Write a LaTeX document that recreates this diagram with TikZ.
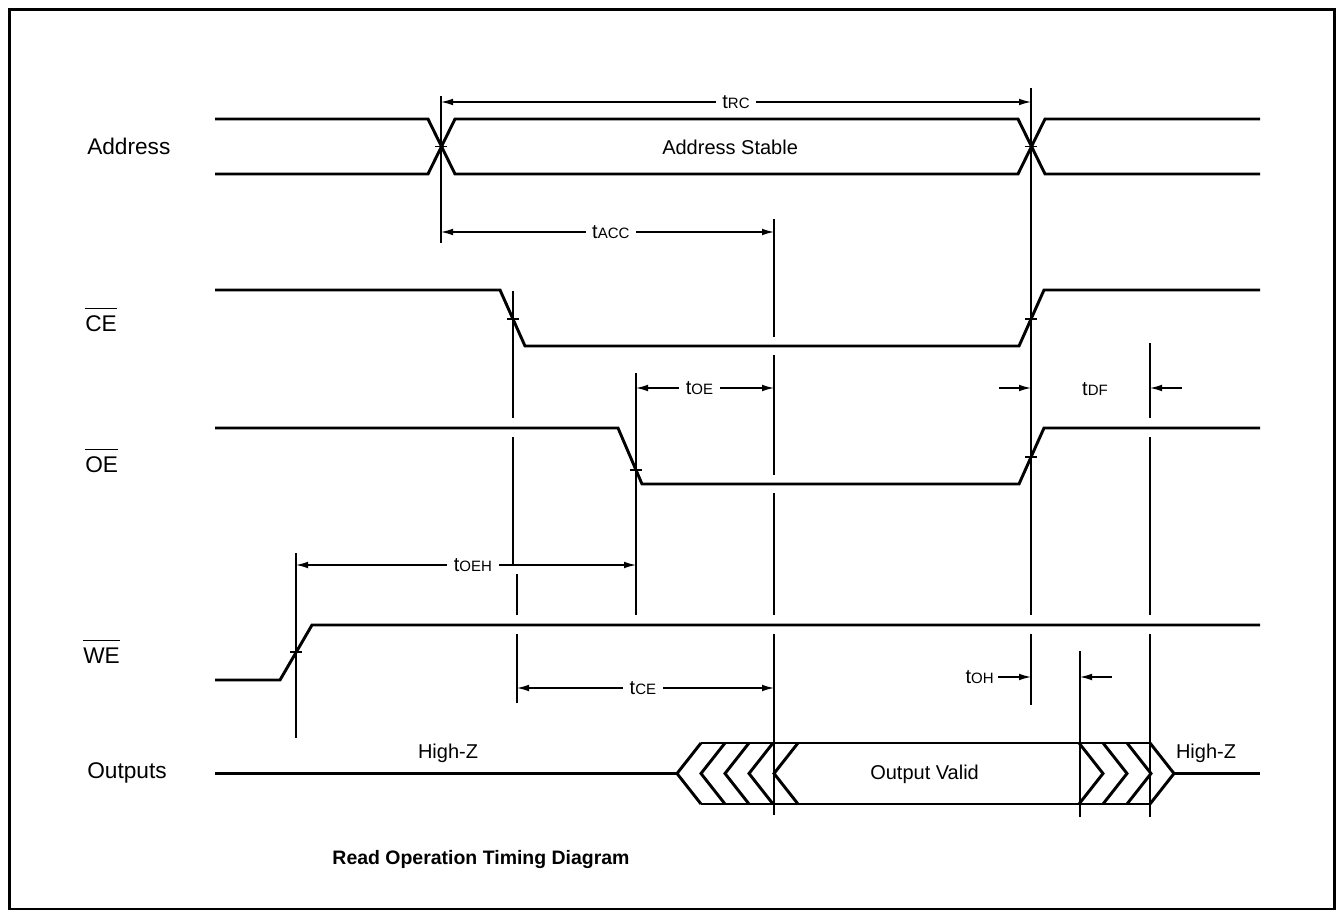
\documentclass[tikz,border=0pt]{standalone}
\usepackage{fontspec}
\setmainfont{Liberation Sans}
\usetikzlibrary{arrows.meta}
\newcommand\ovl[1]{\setbox0\hbox{#1}\rlap{\rule[\dimexpr\ht0+5pt\relax]{\wd0}{0.8pt}}\box0}
\newcommand\tsub[1]{t{\fontsize{11.25}{13}\selectfont #1}}
\begin{document}
\begin{tikzpicture}[x=0.75pt,y=-0.75pt,
 sig/.style={line width=2.2pt, line join=miter},
 guide/.style={line width=0.9pt},
 dim/.style={line width=0.9pt},
 dimboth/.style={dim,{Latex[length=9pt,width=5pt]}-{Latex[length=9pt,width=5pt]}},
 dimto/.style={dim,-{Latex[length=9pt,width=5pt]}},
 tickmark/.style={line width=0.9pt},
 siglabel/.style={anchor=west, font=\fontsize{17}{20}\selectfont, inner sep=0pt},
 tlabel/.style={fill=white, inner xsep=5pt, inner ysep=1pt, font=\fontsize{15}{17}\selectfont},
 txt/.style={font=\fontsize{15}{17}\selectfont, inner sep=0pt}
]
\useasboundingbox (0,0) rectangle (1338,912);
\draw[line width=2.2pt] (9.5,9.5) rectangle (1334.5,909);

% signal labels
\node[siglabel] (lAddr) at (87,146) {Address};
\node[siglabel] (lCE) at (85,320) {\ovl{CE}};
\node[siglabel] (lOE) at (85,461) {\ovl{OE}};
\node[siglabel] (lWE) at (83,652) {\ovl{WE}};
\node[siglabel] (lOut) at (87,773) {Outputs};

% Address
\draw[sig] (215,119) -- (428,119) -- (455,174) -- (1018,174) -- (1045,119) -- (1260,119);
\draw[sig] (215,174) -- (428,174) -- (455,119) -- (1018,119) -- (1045,174) -- (1260,174);
\node[txt,anchor=west] (addrst) at (662,147) {Address Stable};
% CE
\draw[sig] (215,290) -- (500,290) -- (525,346) -- (1019,346) -- (1044,290) -- (1260,290);
% OE
\draw[sig] (215,428) -- (618,428) -- (642,484) -- (1019,484) -- (1044,428) -- (1260,428);
% WE
\draw[sig] (215,680) -- (280,680) -- (312,625) -- (1260,625);
% Outputs
\draw[sig] (215,773.5) -- (677,773.5);
\draw[sig] (701,743) -- (1150,743);
\draw[sig] (701,804) -- (1150,804);
\foreach \t in {677,701,725,749,774}
  \draw[sig] (\t+24,743) -- (\t,773.5) -- (\t+24,804);
\foreach \c in {1079,1103,1127,1150}
  \draw[sig] (\c,743) -- (\c+24,773.5) -- (\c,804);
\draw[sig] (1174,773.5) -- (1260,773.5);
\node[txt,anchor=west] (valid) at (870,774) {Output Valid};
\node[txt] (hz1) at (448,753) {High-Z};
\node[txt] (hz2) at (1206,753) {High-Z};

% guide lines
\draw[guide] (441,96) -- (441,243);
\draw[guide] (1031,88) -- (1031,615) (1031,634) -- (1031,705);
\draw[guide] (513,291) -- (513,418) (513,437) -- (513,565);
\draw[guide] (636,373) -- (636,615);
\draw[guide] (774,219) -- (774,337) (774,355) -- (774,475) (774,493) -- (774,615) (774,634) -- (774,815);
\draw[guide] (517,574) -- (517,615) (517,634) -- (517,703);
\draw[guide] (296,553) -- (296,738);
\draw[guide] (1150,343) -- (1150,418) (1150,437) -- (1150,615) (1150,634) -- (1150,817);
\draw[guide] (1080,651) -- (1080,817);

% crossing ticks
\foreach \x/\y in {441/146.5, 1031/146.5, 513/319, 1031/319, 636/470, 1031/457, 296/652}
  \draw[tickmark] (\x-6,\y) -- (\x+6,\y);

% dimensions
\coordinate (rcA) at (441,102); \coordinate (rcB) at (1031,102);
\draw[dimboth] (rcA) -- (rcB) node[tlabel,midway] (tRC) {\tsub{RC}};
\coordinate (accA) at (441,232); \coordinate (accB) at (774,232);
\draw[dimboth] (accA) -- (accB) node[tlabel,pos=0.51] (tACC) {\tsub{ACC}};
\coordinate (oeA) at (636,388); \coordinate (oeB) at (774,388);
\draw[dimboth] (oeA) -- (oeB) node[tlabel,pos=0.46] (tOE) {\tsub{OE}};
\coordinate (dfA) at (999,388); \coordinate (dfB) at (1031,388);
\coordinate (dfC) at (1182,388); \coordinate (dfD) at (1150,388);
\draw[dimto] (dfA) -- (dfB);
\draw[dimto] (dfC) -- (dfD);
\node[txt] (tDF) at (1095,389) {\tsub{DF}};
\coordinate (oehA) at (296,565); \coordinate (oehB) at (636,565);
\draw[dimboth] (oehA) -- (oehB) node[tlabel,pos=0.52] (tOEH) {\tsub{OEH}};
\coordinate (ceA) at (517,688); \coordinate (ceB) at (774,688);
\draw[dimboth] (ceA) -- (ceB) node[tlabel,pos=0.49] (tCE) {\tsub{CE}};
\coordinate (ohA) at (998,677); \coordinate (ohB) at (1031,677);
\coordinate (ohC) at (1112,677); \coordinate (ohD) at (1080,677);
\draw[dimto] (ohA) -- (ohB);
\draw[dimto] (ohC) -- (ohD);
\node[txt,anchor=east] (tOH) at (994,677) {\tsub{OH}};

\node[font=\bfseries\fontsize{14.6}{17}\selectfont] (title) at (481,860) {Read Operation Timing Diagram};
\end{tikzpicture}
\end{document}
